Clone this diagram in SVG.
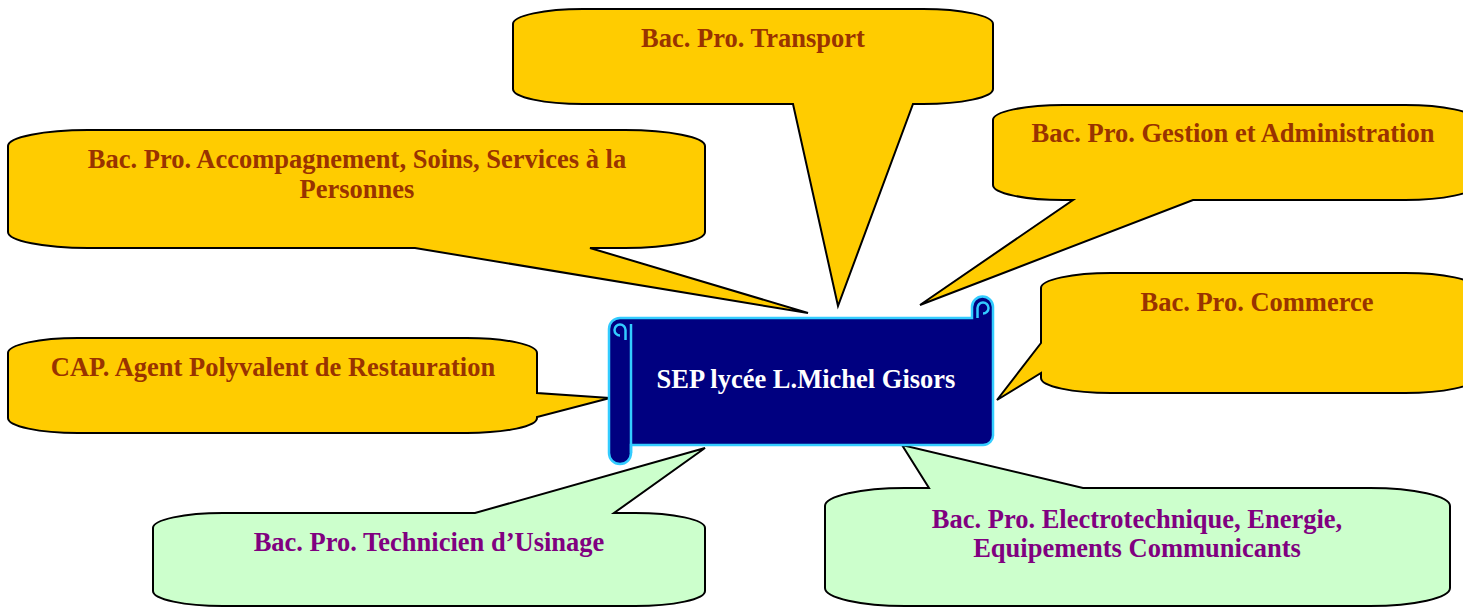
<svg xmlns="http://www.w3.org/2000/svg" width="1463" height="607" viewBox="0 0 1463 607">
<style>
.y{fill:#FFCC00;stroke:#000;stroke-width:2;stroke-linejoin:miter}
.g{fill:#CCFFCC;stroke:#000;stroke-width:2;stroke-linejoin:miter}
.t{font-family:"Liberation Serif","Times New Roman",serif;font-weight:bold;font-size:26.5px;text-anchor:middle}
.tb{fill:#993300}
.tp{fill:#800080}
.tw{fill:#FFFFFF}
.sc{fill:#000080;stroke:#33CCFF;stroke-width:2.5}
.sl{fill:none;stroke:#33CCFF;stroke-width:2.5}
</style>
<rect width="1463" height="607" fill="#FFFFFF"/>
<g id="connectors"/>
<g id="transport">
<path class="y" d="M583 9 H923 A70 15 0 0 1 993 24 V89 A70 15 0 0 1 923 104 H913 L838 306 L793 104 H583 A70 15 0 0 1 513 89 V24 A70 15 0 0 1 583 9 Z"/>
<text class="t tb" x="753" y="47">Bac. Pro. Transport</text>
</g>
<g id="accompagnement">
<path class="y" d="M88 130 H625 A80 16 0 0 1 705 146 V232 A80 16 0 0 1 625 248 H590 L808 313 L415 248 H88 A80 16 0 0 1 8 232 V146 A80 16 0 0 1 88 130 Z"/>
<text class="t tb" x="357" y="168">Bac. Pro. Accompagnement, Soins, Services à la</text>
<text class="t tb" x="357" y="198">Personnes</text>
</g>
<g id="gestion">
<path class="y" d="M1063 105 H1405 A70 15 0 0 1 1475 120 V185 A70 15 0 0 1 1405 200 H1193 L920 305 L1073 200 H1063 A70 15 0 0 1 993 185 V120 A70 15 0 0 1 1063 105 Z"/>
<text class="t tb" x="1233" y="142">Bac. Pro. Gestion et Administration</text>
</g>
<g id="commerce">
<path class="y" d="M1111 273 H1405 A70 15 0 0 1 1475 288 V378 A70 15 0 0 1 1405 393 H1111 A70 15 0 0 1 1041 378 V373 L997 400 L1041 343 V288 A70 15 0 0 1 1111 273 Z"/>
<text class="t tb" x="1257" y="311">Bac. Pro. Commerce</text>
</g>
<g id="cap">
<path class="y" d="M78 338 H467 A70 15 0 0 1 537 353 V393 L610 398 L537 417 V418 A70 15 0 0 1 467 433 H78 A70 15 0 0 1 8 418 V353 A70 15 0 0 1 78 338 Z"/>
<text class="t tb" x="273" y="376">CAP. Agent Polyvalent de Restauration</text>
</g>
<g id="usinage">
<path class="g" d="M223 513 H475 L705 448 L614 513 H635 A70 15 0 0 1 705 528 V591 A70 15 0 0 1 635 606 H223 A70 15 0 0 1 153 591 V528 A70 15 0 0 1 223 513 Z"/>
<text class="t tp" x="429" y="551">Bac. Pro. Technicien d’Usinage</text>
</g>
<g id="electrotechnique">
<path class="g" d="M905 488 H929 L902 445 L1083 488 H1370 A80 18 0 0 1 1450 506 V588 A80 18 0 0 1 1370 606 H905 A80 18 0 0 1 825 588 V506 A80 18 0 0 1 905 488 Z"/>
<text class="t tp" x="1137" y="528">Bac. Pro. Electrotechnique, Energie,</text>
<text class="t tp" x="1137" y="557">Equipements Communicants</text>
</g>
<g id="sep">
<path class="sc" d="M620 318 H972 V307 A10.5 10.5 0 0 1 993 307 V434 A10 10 0 0 1 983 445 H631 V453 A11 11 0 0 1 609 453 V329 A11 11 0 0 1 620 318 Z"/>
<path class="sl" d="M631 324 V453"/>
<path class="sl" d="M620 335.5 A5.5 5.5 0 1 1 625.5 330 V340"/>
<path class="sl" d="M983 313.5 A5.5 5.5 0 1 0 977.5 308 V318"/>
<text class="t tw" x="806" y="388">SEP lycée L.Michel Gisors</text>
</g>
</svg>
